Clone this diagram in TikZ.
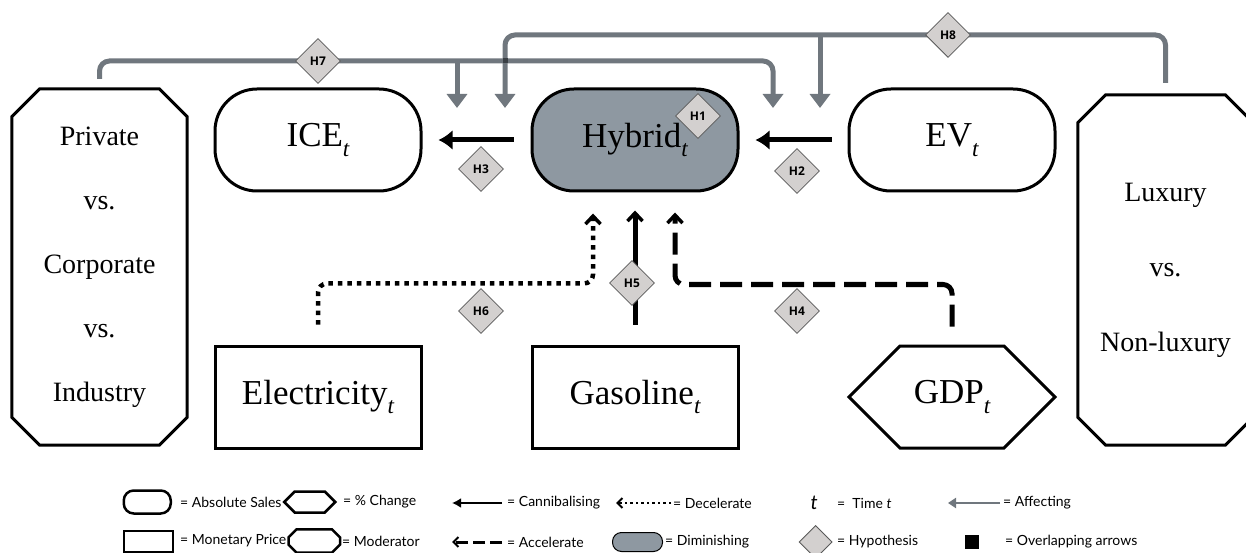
\documentclass[tikz,border=0pt]{standalone}
\usepackage{fontspec}
\setmainfont{Liberation Serif}
\newfontfamily\legfont{Lato}
\newfontfamily\hypfont{Open Sans}
\usetikzlibrary{shapes.geometric,shapes.symbols,arrows.meta,positioning,calc,backgrounds}
\definecolor{hybfill}{RGB}{142,152,161}
\definecolor{hypgray}{RGB}{211,208,207}
\definecolor{linkgray}{RGB}{112,119,126}
\definecolor{crossgray}{RGB}{58,63,68}
\newcommand{\tsub}{\raisebox{-.28em}{\scalebox{.66}{\itshape t}}}
% octagon frame round a node: #1 node, #2 chamfer, #3 line width
\newcommand{\octframe}[3]{%
  \draw[line width=#3] ([xshift=#2]#1.north west) -- ([xshift=-#2]#1.north east)
    -- ([yshift=-#2]#1.north east) -- ([yshift=#2]#1.south east)
    -- ([xshift=-#2]#1.south east) -- ([xshift=#2]#1.south west)
    -- ([yshift=#2]#1.south west) -- ([yshift=-#2]#1.north west) -- cycle;}

\begin{document}
\begin{tikzpicture}[
    x=1pt, y=1pt,
    every text node part/.style={align=center},
    basebox/.style={draw, line width=3pt, minimum width=206pt, minimum height=102pt, inner sep=0pt, font=\fontsize{35}{40}\selectfont},
    salesbox/.style={basebox, rounded corners=42pt},
    pricebox/.style={basebox},
    pctbox/.style={basebox, signal, signal to=east and west, signal pointer angle=90},
    modbox/.style={rectangle, minimum width=175pt, inner sep=0pt, font=\fontsize{28}{64}\selectfont},
    hyp/.style={diamond, draw=black!65, fill=hypgray, line width=.8pt, minimum size=45pt, inner sep=0pt, font=\hypfont\bfseries\fontsize{12}{12}\selectfont},
    cannib/.style={-{Latex[length=14pt,width=20pt]}, line width=5pt},
    barb/.style={-{Straight Barb[length=8pt,width=15pt,line width=3.5pt]}, line width=5pt, rounded corners=9pt},
    accel/.style={barb, dash pattern=on 22pt off 9pt},
    decel/.style={barb, line width=4.5pt, dash pattern=on 4.5pt off 5pt},
    affect/.style={-{Triangle[length=14pt,width=20pt]}, draw=linkgray, line width=5pt, rounded corners=10pt},
    legtext/.style={anchor=west, inner sep=0pt, font=\legfont\fontsize{14}{16}\selectfont}
]
\useasboundingbox (0,0) rectangle (1246,552);

% Nodes
\node (ice) [salesbox] at (318,412) {ICE\tsub};
\node (hyb) [salesbox, fill=hybfill, right=108pt of ice] {Hybrid\tsub};
\node (ev) [salesbox, right=108pt of hyb] {EV\tsub};

\node (elec) [pricebox, below=152pt of ice] {Electricity\tsub};
\node (gas) [pricebox, below=152pt of hyb] {Gasoline\tsub};
\node (gdp) [pctbox, below=152pt of ev] {GDP\tsub};

\node (priv) [modbox, minimum height=356pt] at (99.5,285) {Private\\vs.\\Corporate\\vs.\\Industry};
\octframe{priv}{28pt}{3pt}
\node (lux) [modbox, minimum height=350pt, font=\fontsize{28}{75}\selectfont] at (1165.5,282) {Luxury\\vs.\\Non-luxury};
\octframe{lux}{28pt}{3pt}

% Hypotheses
\node (h1) [hyp] at (698,436) {H1};
\node (h2) [hyp] at (797,381) {H2};
\node (h3) [hyp] at (481,383) {H3};
\node (h4) [hyp] at (797,241) {H4};
\node (h5) [hyp] at (632,269) {H5};
\node (h6) [hyp] at (481,241) {H6};
\node (h7) [hyp] at (318,491) {H7};
\node (h8) [hyp] at (948,517) {H8};

% Connectors
\coordinate (m7a) at (457,444);
\coordinate (m7b) at (773,444);
\coordinate (m8a) at (505,444);
\coordinate (m8b) at (820,444);
\begin{scope}[on background layer]
\draw [cannib] ([xshift=-17pt]hyb.west) -- ([xshift=16pt]ice.east);
\draw [cannib] ([xshift=-16pt]ev.west) -- ([xshift=16pt]hyb.east);

\draw [affect] ([yshift=10pt]priv.north) |- (h7.center) -| (m7b);
\draw [affect] (m7a |- h7.center) -- (m7a);
\draw [affect] ([yshift=12pt]lux.north) |- (h8.center) -| (m8a);
\draw [affect] (m8b |- h8.center) -- (m8b);
\fill [crossgray] ($(m8a |- h7.center)+(-2.5,-2.5)$) rectangle ++(5,5);

\draw [decel] ([yshift=20pt]elec.north) -- ++(0,41) -| ([xshift=-42pt,yshift=-21pt]hyb.south);
\draw [barb] ([yshift=20pt]gas.north) -- ([yshift=-18pt]hyb.south);
\draw [accel] ([yshift=18pt]gdp.north) -- ++(0,42) -| ([xshift=40pt,yshift=-20pt]hyb.south);
\end{scope}

% Legend
\node (lsales) [legtext] at (180,50) {= Absolute Sales};
\node (lsalesbox) [salesbox, minimum width=47pt, minimum height=23pt, rounded corners=10pt, line width=2.5pt, left=8pt of lsales] {};
\node (lpct) [legtext] at (343,50) {= \% Change};
\node (lpctbox) [pctbox, minimum width=51pt, minimum height=21pt, line width=2.5pt, left=6pt of lpct] {};
\node (lprice) [legtext] at (180,11) {= Monetary Price};
\node (lpricebox) [pricebox, minimum width=49pt, minimum height=21pt, line width=2pt, left=6pt of lprice] {};
\node (lmod) [legtext] at (342,11) {= Moderator};
\node (lmodbox) [modbox, minimum width=51pt, minimum height=23pt, left=2pt of lmod] {};
\octframe{lmodbox}{8pt}{2.5pt}

\node (lcan) [legtext] at (507,49) {= Cannibalising};
\draw [-{Latex[length=9pt,width=10pt]}, line width=2.5pt] ([xshift=-5pt]lcan.west) -- ++(-50,0);
\node (lacc) [legtext] at (507,10) {= Accelerate};
\draw [-{Straight Barb[length=5pt,width=10pt,line width=2pt]}, line width=3pt, dash pattern=on 12pt off 5pt] ([xshift=-5pt]lacc.west) -- ++(-50,0);
\node (ldec) [legtext] at (673,49) {= Decelerate};
\draw [-{Straight Barb[length=5pt,width=10pt,line width=2pt]}, line width=2.5pt, dash pattern=on 2.5pt off 3pt] ([xshift=-2pt]ldec.west) -- ++(-55,0);
\node (ldim) [legtext] at (665,10) {= Diminishing};
\node (ldimbox) [draw, fill=hybfill, line width=1pt, rounded corners=9pt, minimum width=50pt, minimum height=19pt, left=2pt of ldim] {};

\node (ltime) [legtext] at (837,49) {=\ \ Time \textit{t}};
\node (lt) [inner sep=0pt, font=\legfont\itshape\fontsize{20}{20}\selectfont, left=19pt of ltime] {t};
\node (lhyp) [legtext] at (837,10) {= Hypothesis};
\node (lhypbox) [hyp, minimum size=33pt, left=4.5pt of lhyp] {};

\node (laff) [legtext] at (1003,49) {= Affecting};
\draw [-{Triangle[length=8pt,width=10pt]}, draw=linkgray, line width=2.5pt] ([xshift=-3pt]laff.west) -- ++(-52,0);
\node (lover) [legtext] at (1005,10) {= Overlapping arrows};
\node (lsq) [fill=black, minimum size=14pt, inner sep=0pt, left=26pt of lover] {};

\end{tikzpicture}
\end{document}
